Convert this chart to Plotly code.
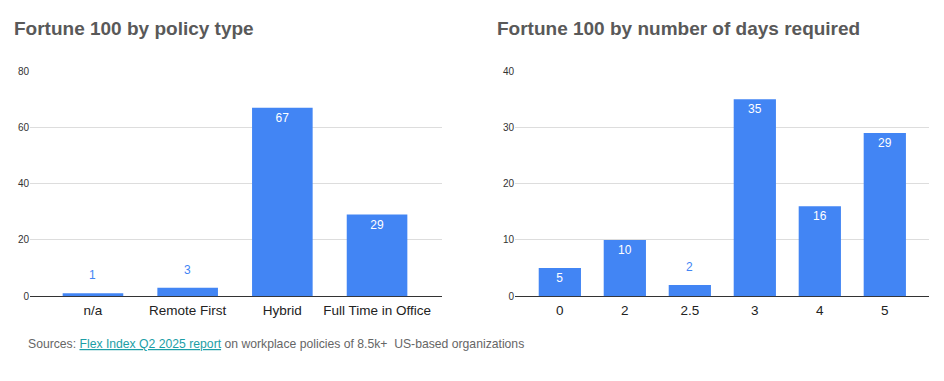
import plotly.graph_objects as go

# ---- data ----
policy_types = ["n/a", "Remote First", "Hybrid", "Full Time in Office"]
policy_counts = [1, 3, 67, 29]

days_required = ["0", "2", "2.5", "3", "4", "5"]
days_counts = [5, 10, 2, 35, 16, 29]

left_ticks = [0, 20, 40, 60, 80]
right_ticks = [0, 10, 20, 30, 40]

title_left = "Fortune 100 by policy type"
title_right = "Fortune 100 by number of days required"
source_prefix = "Sources: "
source_link = "Flex Index Q2 2025 report"
source_suffix = " on workplace policies of 8.5k+  US-based organizations"

# ---- styling ----
W, H = 944, 381
BAR = "#4285F4"
FONT = "Liberation Sans, Arial, sans-serif"

fig = go.Figure()


def add_panel(cats, vals, ymax, xa, ya, thresh, width):
    pos = ["inside" if v / ymax >= thresh else "none" for v in vals]
    fig.add_trace(go.Bar(
        x=cats, y=vals, xaxis=xa, yaxis=ya,
        marker=dict(color=BAR, line=dict(width=0)),
        width=width,
        text=[str(v) for v in vals],
        textposition=pos,
        insidetextanchor="end",
        textangle=0,
        insidetextfont=dict(color="white", size=12, family=FONT),
        hoverinfo="skip",
        showlegend=False,
    ))
    for i, (v, p) in enumerate(zip(vals, pos)):
        if p == "none":
            fig.add_annotation(
                x=i, y=v, xref=xa, yref=ya, text=str(v), showarrow=False,
                yanchor="bottom", yshift=9,
                font=dict(color=BAR, size=12, family=FONT),
            )


add_panel(policy_types, policy_counts, 80, "x", "y", 0.1, 0.64)
add_panel(days_required, days_counts, 40, "x2", "y2", 0.1, 0.65)

ydom = [(H - 299) / H, (H - 68) / H]

common_x = dict(
    type="category", showgrid=False, showline=False, ticks="",
    tickfont=dict(size=13.5, color="#222222", family=FONT),
    ticklabelstandoff=4,
    fixedrange=True,
)
common_y = dict(
    showgrid=True, gridcolor="#dddddd", gridwidth=1,
    zeroline=True, zerolinecolor="#333333", zerolinewidth=1,
    showline=False, ticks="",
    tickfont=dict(size=10, color="#333333", family=FONT),
)

fig.update_layout(
    width=W, height=H,
    margin=dict(l=0, r=0, t=0, b=0),
    paper_bgcolor="white", plot_bgcolor="white",
    font=dict(family=FONT),
    xaxis=dict(domain=[30 / W, 442 / W], anchor="y",
               range=[-0.665, 3.686], **common_x),
    yaxis=dict(domain=ydom, anchor="x", range=[0, 80],
               tickvals=left_ticks, **common_y),
    xaxis2=dict(domain=[515 / W, 929 / W], anchor="y2",
                range=[-0.69, 5.68], **common_x),
    yaxis2=dict(domain=ydom, anchor="x2", range=[0, 40],
                tickvals=right_ticks, **common_y),
)

# titles
for txt, x in [(title_left, 12), (title_right, 495)]:
    fig.add_annotation(
        text=f"<b>{txt}</b>", xref="paper", yref="paper",
        x=x / W, y=1 - 24 / H, xanchor="left", yanchor="middle",
        showarrow=False,
        font=dict(size=19, color="#595959", family=FONT),
    )

# source line
fig.add_annotation(
    text=(f"{source_prefix}<span style='color:#1c9ea6'><u>{source_link}</u></span>"
          f"{source_suffix}"),
    xref="paper", yref="paper", x=26 / W, y=1 - 348 / H,
    xanchor="left", yanchor="middle", showarrow=False,
    font=dict(size=12.2, color="#666666", family=FONT),
)

fig.write_html(
    "out.html",
    config=dict(displayModeBar=False, responsive=False),
    post_script="document.body.style.margin='0';document.body.style.overflow='hidden';",
)
